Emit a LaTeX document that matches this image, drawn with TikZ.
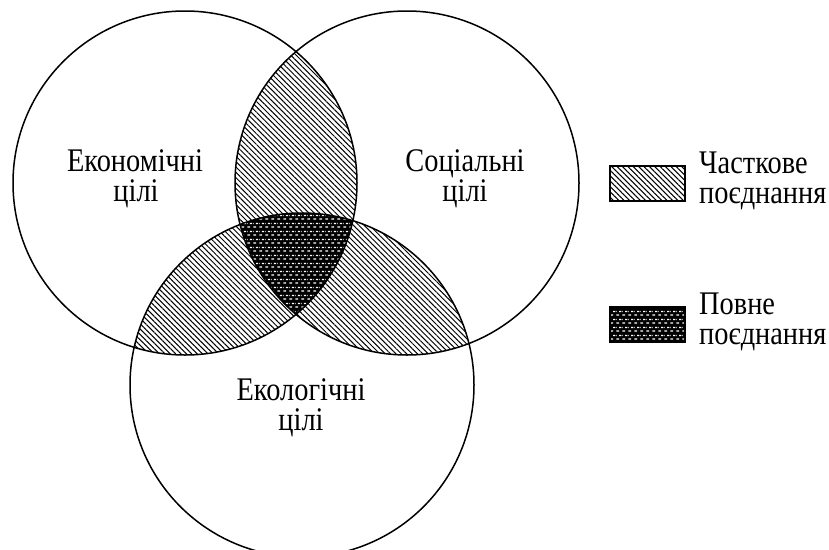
\documentclass[tikz,border=0pt]{standalone}
\usepackage{fontspec}
\setmainfont{Liberation Serif}[FakeStretch=0.86]
\usetikzlibrary{patterns.meta}

% rows of short dashes, every other row shifted by half a step
\tikzdeclarepattern{
  name=dashrows, type=uncolored,
  bottom left={(0pt,0pt)}, top right={(5.6pt,8pt)}, tile size={(5.6pt,8pt)},
  code={
    \fill (0.4pt,1.4pt) rectangle (3.4pt,2.8pt);
    \fill (3.2pt,5.4pt) rectangle (5.6pt,6.8pt);
    \fill (0pt,5.4pt) rectangle (0.6pt,6.8pt);
  }
}

\tikzset{
  ring/.style={draw=black, line width=1.5pt},
  hatch/.style={pattern={Lines[angle=-45,distance=3.8pt,line width=1.0pt]}, pattern color=black},
  coredots/.style={pattern=dashrows, pattern color=white},
  txt/.style={font=\fontsize{33}{36}\selectfont, anchor=base, inner sep=0pt},
  legtxt/.style={txt, anchor=base west},
  key/.style={draw=black, line width=1.5pt},
}

\begin{document}
\begin{tikzpicture}[x=1pt,y=-1pt]
  \useasboundingbox (0,0) rectangle (829,549);

  % circle centres
  \coordinate (E) at (185,183);
  \coordinate (S) at (407,183);
  \coordinate (K) at (302,385);
  \def\rad{172}

  % pairwise overlaps
  \begin{scope}
    \clip (E) circle [radius=\rad];
    \fill[hatch] (S) circle [radius=\rad];
    \fill[hatch] (K) circle [radius=\rad];
  \end{scope}
  \begin{scope}
    \clip (S) circle [radius=\rad];
    \fill[hatch] (K) circle [radius=\rad];
  \end{scope}

  % common part of all three
  \begin{scope}
    \clip (E) circle [radius=\rad];
    \clip (S) circle [radius=\rad];
    \fill[black] (K) circle [radius=\rad];
    \fill[coredots] (K) circle [radius=\rad];
  \end{scope}

  % outlines
  \draw[ring] (E) circle [radius=\rad];
  \draw[ring] (S) circle [radius=\rad];
  \draw[ring] (K) circle [radius=\rad];

  % circle labels
  \node[txt] (eco1) at (135,171) {Економічні};
  \node[txt] (eco2) at (136,201) {цілі};
  \node[txt] (soc1) at (465,171) {Соціальні};
  \node[txt] (soc2) at (465,201) {цілі};
  \node[txt] (ecl1) at (301,400) {Екологічні};
  \node[txt] (ecl2) at (301,430) {цілі};

  % legend
  \filldraw[key, hatch] (610,166) rectangle (685,201);
  \fill[black] (610,307) rectangle (685,342);
  \filldraw[key, coredots] (610,307) rectangle (685,342);
  \node[legtxt] (part1) at (699,173) {Часткове};
  \node[legtxt] (part2) at (699,203) {поєднання};
  \node[legtxt] (full1) at (699,314) {Повне};
  \node[legtxt] (full2) at (699,344) {поєднання};
\end{tikzpicture}
\end{document}
